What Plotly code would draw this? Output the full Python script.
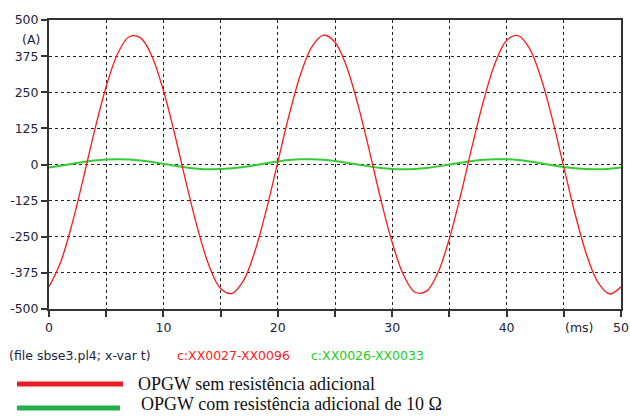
import plotly.graph_objects as go

t_ms = list(range(0, 51))
i_sem = [-423, -340, -208, -48, 120, 270, 383, 442, 438, 374, 256, 103, -65, -223, -351, -429,
         -446, -402, -300, -157, 9, 173, 313, 409, 448, 423, 340, 208, 48, -120, -270, -383,
         -442, -438, -374, -256, -103, 65, 223, 351, 429, 446, 402, 300, 157, -9, -173, -313,
         -409, -448, -423]
i_com = [-10, -4.4, 2.1, 8.5, 13.8, 17.3, 18.5, 17.3, 13.8, 8.5, 2.1, -4.4, -10.1, -14.3, -16.4,
         -16.0, -13.2, -8.4, -2.3, 4.3, 10.4, 15.2, 18.0, 18.4, 16.3, 12.1, 6.4, -0.1, -6.5,
         -11.8, -15.3, -16.5, -15.3, -11.8, -6.5, -0.1, 6.4, 12.1, 16.3, 18.4, 18.0, 15.2, 10.4,
         4.3, -2.3, -8.4, -13.2, -16.0, -16.4, -14.3, -10.1]

x_ticks = [0, 5, 10, 15, 20, 25, 30, 35, 40, 45, 50]
x_labels = ["0", "", "10", "", "20", "", "30", "", "40", "", "50"]
y_ticks = [500, 375, 250, 125, 0, -125, -250, -375, -500]
y_labels = ["500", "375", "250", "125", "0", "-125", "-250", "-375", "-500"]

legend_names = ["OPGW sem resistência adicional", "OPGW com resistência adicional de 10 Ω"]
curve_ids = ["c:XX0027-XX0096", "c:XX0026-XX0033"]

fig = go.Figure()
fig.add_trace(go.Scatter(x=t_ms, y=i_com, mode="lines", line=dict(color="#33CC33", width=2, shape="spline"),
                         showlegend=False))
fig.add_trace(go.Scatter(x=t_ms, y=i_sem, mode="lines", line=dict(color="#FF1A1A", width=1.3, shape="spline"),
                         showlegend=False))

tick_font = dict(family="DejaVu Sans", size=12.5, color="#1c2340")
fig.update_xaxes(range=[0, 50], tickvals=x_ticks, ticktext=x_labels, ticks="outside", ticklen=6,
                 tickwidth=1.5, tickcolor="#333", showline=True, linecolor="#333", linewidth=2,
                 mirror=True, showgrid=True, gridcolor="#222", griddash="dot", gridwidth=1.2,
                 zeroline=False, tickfont=tick_font)
fig.update_yaxes(range=[-500, 500], tickvals=y_ticks, ticktext=y_labels, ticks="outside", ticklen=6,
                 tickwidth=1.5, tickcolor="#333", showline=True, linecolor="#333", linewidth=2,
                 mirror=True, showgrid=True, gridcolor="#222", griddash="dot", gridwidth=1.2,
                 zeroline=False, tickfont=tick_font)

annotations = [
    dict(text="(A)", x=31, y=39),
    dict(text="(ms)", x=579, y=328),
    dict(text="(file sbse3.pl4; x-var t)", x=7, y=355, xanchor="left"),
    dict(text=curve_ids[0], x=175, y=355, xanchor="left", color="#FF2020"),
    dict(text=curve_ids[1], x=309, y=355, xanchor="left", color="#22CC22"),
]
W, H = 630, 416
ml, mr, mt, mb = 49, 9, 20, 107
pw, ph = W - ml - mr, H - mt - mb


def px(x):
    return (x - ml) / pw


def py(y):
    return 1 - (y - mt) / ph


for a in annotations:
    fig.add_annotation(text=a["text"], x=px(a["x"]), y=py(a["y"]), xref="paper", yref="paper",
                       xanchor=a.get("xanchor", "center"), yanchor="middle", showarrow=False,
                       font=dict(family="DejaVu Sans", size=12.5, color=a.get("color", "#1c2340")))

legend_colors = ["#ED1C24", "#22B14C"]
legend_y = [384, 408]
legend_x1 = [123, 120]
legend_ty = [384, 404]
legend_tx = [136, 139]
for name, col, ly, x1, ty, tx in zip(legend_names, legend_colors, legend_y, legend_x1, legend_ty, legend_tx):
    fig.add_shape(type="line", xref="paper", yref="paper", x0=px(17), x1=px(x1), y0=py(ly), y1=py(ly),
                  line=dict(color=col, width=5))
    fig.add_annotation(text=name, x=px(tx), y=py(ty), xref="paper", yref="paper", xanchor="left",
                       yanchor="middle", showarrow=False,
                       font=dict(family="Liberation Serif", size=18, color="#111"))

fig.update_layout(width=W, height=H, margin=dict(l=ml, r=mr, t=mt, b=mb, autoexpand=False),
                  plot_bgcolor="white", paper_bgcolor="white")
fig.write_html("out.html", config={"displayModeBar": False})

with open("out.html", encoding="utf-8") as f:
    html = f.read()
html = html.replace("<head>", "<head><style>html,body{margin:0;padding:0;overflow:hidden;}</style>", 1)
with open("out.html", "w", encoding="utf-8") as f:
    f.write(html)
